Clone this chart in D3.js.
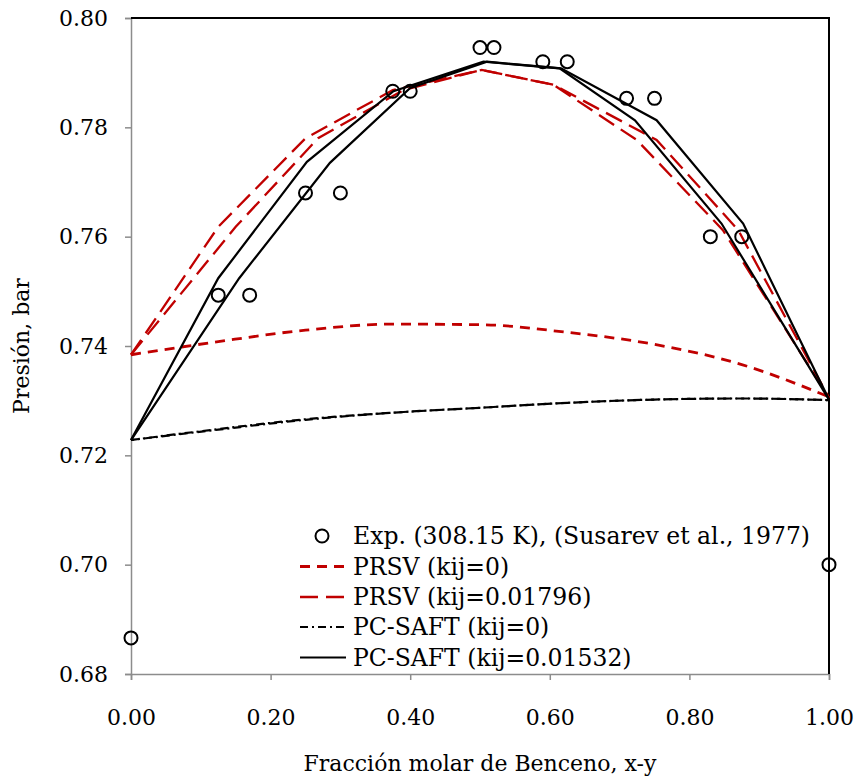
<!DOCTYPE html>
<html>
<head>
<meta charset="utf-8">
<script src="https://cdn.jsdelivr.net/npm/d3@7"></script>
<style>
  body { margin: 0; background: #fff; }
  text { font-family: "DejaVu Serif", serif; fill: #000; }
</style>
</head>
<body>
<svg id="chart" width="857" height="780"></svg>
<script>
// experimental points (x or y of benzene, pressure in bar)
var expX = [0.0, 0.125, 0.17, 0.25, 0.30, 0.375, 0.40, 0.50, 0.52, 0.59, 0.625, 0.71, 0.75, 0.83, 0.875, 1.0];
var expP = [0.6866, 0.7493, 0.7493, 0.768, 0.768, 0.7866, 0.7866, 0.7946, 0.7946, 0.792, 0.792, 0.7853, 0.7853, 0.760, 0.760, 0.700];

// PRSV kij=0 (bubble and dew curves lie on top of each other)
var prsv0X = [0.0, 0.125, 0.25, 0.375, 0.50, 0.625, 0.75, 0.875, 1.0];
var prsv0P = [0.7384, 0.7408, 0.7429, 0.7440, 0.7439, 0.7425, 0.7403, 0.7366, 0.7307];

// PRSV kij=0.01796, left and right branch
var prsv1aX = [0.0, 0.125, 0.25, 0.375, 0.5025, 0.605, 0.7245, 0.848, 1.0];
var prsv1aP = [0.7384, 0.7618, 0.7780, 0.7868, 0.7905, 0.7878, 0.7777, 0.7612, 0.7305];
var prsv1bX = [0.0, 0.150, 0.268, 0.390, 0.5025, 0.605, 0.753, 0.870, 1.0];
var prsv1bP = [0.7384, 0.7618, 0.7780, 0.7868, 0.7905, 0.7878, 0.7777, 0.7612, 0.7305];

// PC-SAFT kij=0, bubble and dew almost coincide
var saft0aX = [0.0, 0.125, 0.25, 0.375, 0.50, 0.625, 0.75, 0.875, 1.0];
var saft0aP = [0.7228, 0.7248, 0.7266, 0.7278, 0.7287, 0.7296, 0.7302, 0.7304, 0.7301];
var saft0bX = [0.0, 0.125, 0.25, 0.375, 0.50, 0.625, 0.75, 0.875, 1.0];
var saft0bP = [0.7228, 0.7247, 0.7265, 0.7278, 0.7287, 0.7296, 0.7302, 0.7304, 0.7301];

// PC-SAFT kij=0.01532, left and right branch
var saft1aX = [0.0, 0.125, 0.252, 0.376, 0.505, 0.614, 0.722, 0.846, 1.0];
var saft1aP = [0.7228, 0.7524, 0.7737, 0.7866, 0.7920, 0.7908, 0.7813, 0.7624, 0.7302];
var saft1bX = [0.0, 0.155, 0.285, 0.400, 0.510, 0.616, 0.753, 0.877, 1.0];
var saft1bP = [0.7228, 0.7524, 0.7735, 0.7872, 0.7920, 0.7908, 0.7813, 0.7624, 0.7302];

var xTicks = [0.0, 0.2, 0.4, 0.6, 0.8, 1.0];
var yTicks = [0.68, 0.70, 0.72, 0.74, 0.76, 0.78, 0.80];

var legendLabels = [
    "Exp. (308.15 K), (Susarev et al., 1977)",
    "PRSV (kij=0)",
    "PRSV (kij=0.01796)",
    "PC-SAFT (kij=0)",
    "PC-SAFT (kij=0.01532)"
];

(function () {
    var RED = "#c00000";
    var AXIS_GRAY = "#8c8c8c";
    var FONT_SIZE = 22;
    var LEGEND_FONT_SIZE = 23.5;

    var svg = d3.select("#chart");
    var plotLeft = 131, plotRight = 829, plotTop = 18, plotBottom = 674;

    var x = d3.scaleLinear().domain([0, 1]).range([plotLeft, plotRight]);
    var y = d3.scaleLinear().domain([0.68, 0.80]).range([plotBottom, plotTop]);

    function zipPoints(xs, ps) {
        return xs.map(function (v, i) { return [v, ps[i]]; });
    }

    // series styles; the two kij=0 PC-SAFT curves are offset so they merge into one line
    var series = [
        { pts: zipPoints(prsv0X, prsv0P), stroke: RED, width: 2.8, dash: "10,7", curve: d3.curveMonotoneX },
        { pts: zipPoints(prsv1aX, prsv1aP), stroke: RED, width: 2.3, dash: "18,8", curve: d3.curveLinear },
        { pts: zipPoints(prsv1bX, prsv1bP), stroke: RED, width: 2.3, dash: "18,8", curve: d3.curveLinear },
        { pts: zipPoints(saft0aX, saft0aP), stroke: "#000", width: 2.2, dash: "8,4,2,4", offset: 0, curve: d3.curveMonotoneX },
        { pts: zipPoints(saft0bX, saft0bP), stroke: "#000", width: 2.2, dash: "8,4,2,4", offset: 5, curve: d3.curveMonotoneX },
        { pts: zipPoints(saft1aX, saft1aP), stroke: "#000", width: 2.2, dash: null, curve: d3.curveLinear },
        { pts: zipPoints(saft1bX, saft1bP), stroke: "#000", width: 2.2, dash: null, curve: d3.curveLinear }
    ];

    // axes
    var yAxis = d3.axisLeft(y).tickValues(yTicks).tickFormat(d3.format(".2f")).tickSize(6).tickPadding(17);
    var xAxis = d3.axisBottom(x).tickValues(xTicks).tickFormat(d3.format(".2f")).tickSize(6).tickPadding(29);

    var gy = svg.append("g").attr("transform", "translate(" + plotLeft + ",0)").call(yAxis);
    var gx = svg.append("g").attr("transform", "translate(0," + plotBottom + ")").call(xAxis);
    [gx, gy].forEach(function (g) {
        g.select(".domain").attr("stroke", AXIS_GRAY).attr("stroke-width", 1.5);
        g.selectAll(".tick line").attr("stroke", AXIS_GRAY).attr("stroke-width", 1.5);
        g.selectAll(".tick text").attr("font-family", "DejaVu Serif").attr("font-size", FONT_SIZE).attr("fill", "#000");
    });

    // plot area border on top and right
    svg.append("path")
        .attr("d", "M" + plotLeft + "," + plotTop + "H" + plotRight + "V" + plotBottom)
        .attr("fill", "none").attr("stroke", "#000").attr("stroke-width", 2);

    // curves
    var plot = svg.append("g");
    series.forEach(function (s) {
        var line = d3.line()
            .x(function (d) { return x(d[0]); })
            .y(function (d) { return y(d[1]); })
            .curve(s.curve);
        plot.append("path")
            .attr("d", line(s.pts))
            .attr("fill", "none")
            .attr("stroke", s.stroke)
            .attr("stroke-width", s.width)
            .attr("stroke-dasharray", s.dash)
            .attr("stroke-dashoffset", s.offset || 0)
            .attr("stroke-linejoin", "miter");
    });

    // experimental points
    plot.selectAll("circle.exp")
        .data(zipPoints(expX, expP))
        .enter().append("circle")
        .attr("class", "exp")
        .attr("cx", function (d) { return x(d[0]); })
        .attr("cy", function (d) { return y(d[1]); })
        .attr("r", 6.5)
        .attr("fill", "none")
        .attr("stroke", "#000")
        .attr("stroke-width", 2);

    // axis titles
    svg.append("text")
        .attr("transform", "translate(29," + ((plotTop + plotBottom) / 2) + ") rotate(-90)")
        .attr("text-anchor", "middle")
        .attr("font-size", FONT_SIZE)
        .text("Presión, bar");
    svg.append("text")
        .attr("x", (plotLeft + plotRight) / 2)
        .attr("y", 771)
        .attr("text-anchor", "middle")
        .attr("font-size", FONT_SIZE)
        .text("Fracción molar de Benceno, x-y");

    // legend
    var legendY = [536, 566.5, 597, 627, 657.5];
    var legendStyles = [null, series[0], series[1], series[3], series[5]];
    var legend = svg.append("g");
    legendLabels.forEach(function (label, i) {
        var cy = legendY[i];
        if (i === 0) {
            legend.append("circle").attr("cx", 322).attr("cy", cy).attr("r", 6.5)
                .attr("fill", "none").attr("stroke", "#000").attr("stroke-width", 2);
        } else {
            var s = legendStyles[i];
            legend.append("line")
                .attr("x1", 300).attr("x2", 346).attr("y1", cy).attr("y2", cy)
                .attr("stroke", s.stroke).attr("stroke-width", s.width)
                .attr("stroke-dasharray", s.dash);
        }
        legend.append("text")
            .attr("x", 353).attr("y", cy)
            .attr("dy", "0.35em")
            .attr("font-size", LEGEND_FONT_SIZE)
            .text(label);
    });
})();
</script>
</body>
</html>
